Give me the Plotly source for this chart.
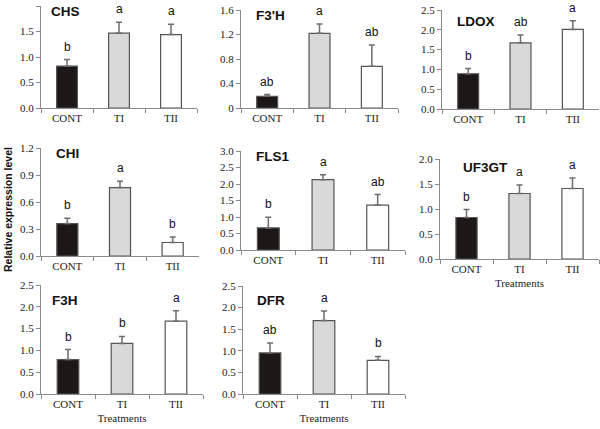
import plotly.graph_objects as go

W, H = 600, 429

categories = ["CONT", "TI", "TII"]
genes = ["CHS", "F3'H", "LDOX", "CHI", "FLS1", "UF3GT", "F3H", "DFR"]

chs_mean = [0.82, 1.47, 1.44]
chs_err = [0.13, 0.21, 0.20]
chs_sig = ["b", "a", "a"]

f3h_prime_mean = [0.19, 1.22, 0.68]
f3h_prime_err = [0.03, 0.15, 0.35]
f3h_prime_sig = ["ab", "a", "ab"]

ldox_mean = [0.89, 1.67, 2.01]
ldox_err = [0.13, 0.20, 0.22]
ldox_sig = ["b", "ab", "a"]

chi_mean = [0.36, 0.76, 0.15]
chi_err = [0.06, 0.07, 0.06]
chi_sig = ["b", "a", "b"]

fls1_mean = [0.67, 2.13, 1.36]
fls1_err = [0.32, 0.15, 0.32]
fls1_sig = ["b", "a", "ab"]

uf3gt_mean = [0.83, 1.31, 1.41]
uf3gt_err = [0.16, 0.17, 0.21]
uf3gt_sig = ["b", "a", "a"]

f3h_mean = [0.79, 1.16, 1.67]
f3h_err = [0.23, 0.16, 0.24]
f3h_sig = ["b", "b", "a"]

dfr_mean = [0.95, 1.70, 0.78]
dfr_err = [0.23, 0.22, 0.09]
dfr_sig = ["ab", "a", "b"]

y_max = [2.0, 1.6, 2.5, 1.2, 3.0, 2.0, 2.5, 2.5]
y_ticks = [
    [0, 0.5, 1.0, 1.5, 2.0],
    [0, 0.4, 0.8, 1.2, 1.6],
    [0, 0.5, 1.0, 1.5, 2.0, 2.5],
    [0, 0.3, 0.6, 0.9, 1.2],
    [0, 0.5, 1.0, 1.5, 2.0, 2.5, 3.0],
    [0, 0.5, 1.0, 1.5, 2.0],
    [0, 0.5, 1.0, 1.5, 2.0, 2.5],
    [0, 0.5, 1.0, 1.5, 2.0, 2.5],
]
y_ticktext = [
    ["0.0", "0.5", "1.0", "1.5", "2.0"],
    ["0", "0.4", "0.8", "1.2", "1.6"],
    ["0.0", "0.5", "1.0", "1.5", "2.0", "2.5"],
    ["0.0", "0.3", "0.6", "0.9", "1.2"],
    ["0.0", "0.5", "1.0", "1.5", "2.0", "2.5", "3.0"],
    ["0.0", "0.5", "1.0", "1.5", "2.0"],
    ["0.0", "0.5", "1.0", "1.5", "2.0", "2.5"],
    ["0.0", "0.5", "1.0", "1.5", "2.0", "2.5"],
]
x_title = ["", "", "", "", "", "Treatments", "Treatments", "Treatments"]

means = [chs_mean, f3h_prime_mean, ldox_mean, chi_mean, fls1_mean, uf3gt_mean, f3h_mean, dfr_mean]
errs = [chs_err, f3h_prime_err, ldox_err, chi_err, fls1_err, uf3gt_err, f3h_err, dfr_err]
sigs = [chs_sig, f3h_prime_sig, ldox_sig, chi_sig, fls1_sig, uf3gt_sig, f3h_sig, dfr_sig]

# panel layout in pixels: (x_left, x_right, y_zero, y_top)
panels = [
    (41, 197, 108, 6),
    (241, 398, 108, 10),
    (442, 599, 109, 10),
    (41, 199, 256, 148),
    (241, 405, 250, 151),
    (440, 599, 259, 159),
    (41, 203, 394, 285),
    (243, 405, 394, 286),
]
# title positions (x left, y center) in pixels
title_pos = [(49, 11), (254, 15), (455, 21), (54, 153), (254, 157), (461, 167), (50, 300), (255, 300)]

bar_colors = ["#1c1818", "#d9d9d9", "#ffffff"]
serif = "Liberation Serif"
sans = "Liberation Sans"

fig = go.Figure()
layout = {}
annotations = []

for i in range(8):
    n = "" if i == 0 else str(i + 1)
    xl, xr, y0, yt = panels[i]
    fig.add_trace(go.Bar(
        x=categories, y=means[i],
        xaxis="x" + n, yaxis="y" + n,
        marker=dict(color=bar_colors, line=dict(color="#555555", width=1.2)),
        error_y=dict(type="data", symmetric=False, array=errs[i],
                     arrayminus=[0, 0, 0], color="#6e6e6e", thickness=1.5, width=3),
        width=0.4, showlegend=False, hoverinfo="skip",
    ))
    layout["xaxis" + n] = dict(
        domain=[xl / W, xr / W], anchor="y" + n, automargin=False,
        showline=True, linecolor="#8a8a8a", linewidth=1,
        ticks="outside", tickson="boundaries", ticklen=4, tickcolor="#8a8a8a",
        tickfont=dict(family=serif, size=11, color="#222"),
        showgrid=False, zeroline=False, fixedrange=True,
        title=dict(text=x_title[i], font=dict(family=serif, size=11, color="#222"), standoff=5),
    )
    layout["yaxis" + n] = dict(
        domain=[1 - y0 / H, 1 - yt / H], anchor="x" + n, automargin=False,
        range=[0, y_max[i]],
        showline=True, linecolor="#8a8a8a", linewidth=1,
        ticks="outside", ticklen=4, tickcolor="#8a8a8a",
        tickvals=y_ticks[i], ticktext=y_ticktext[i],
        tickfont=dict(family=serif, size=11, color="#222"),
        showgrid=False, zeroline=False, fixedrange=True,
    )
    for c, m, e, s in zip(categories, means[i], errs[i], sigs[i]):
        annotations.append(dict(
            x=c, y=m + e, xref="x" + n, yref="y" + n, text=s, showarrow=False,
            yanchor="bottom", yshift=4, font=dict(family=sans, size=12, color="#111"),
        ))
    tx, ty = title_pos[i]
    annotations.append(dict(
        x=tx / W, y=1 - ty / H, xref="paper", yref="paper", text="<b>" + genes[i] + "</b>",
        showarrow=False, xanchor="left", yanchor="middle",
        font=dict(family=sans, size=13.5, color="#111"),
    ))

annotations.append(dict(
    x=8 / W, y=1 - 210 / H, xref="paper", yref="paper", text="<b>Relative expression level</b>",
    showarrow=False, textangle=-90, xanchor="center", yanchor="middle",
    font=dict(family=sans, size=10.5, color="#111"),
))

fig.update_layout(
    width=W, height=H,
    margin=dict(l=0, r=0, t=0, b=0, autoexpand=False),
    paper_bgcolor="white", plot_bgcolor="white",
    bargap=0.6,
    hovermode=False,
    annotations=annotations,
    **layout,
)

fig.write_html(
    "out.html",
    config={"displayModeBar": False, "staticPlot": True},
    post_script="document.body.style.margin='0';document.body.style.overflow='hidden';",
)
